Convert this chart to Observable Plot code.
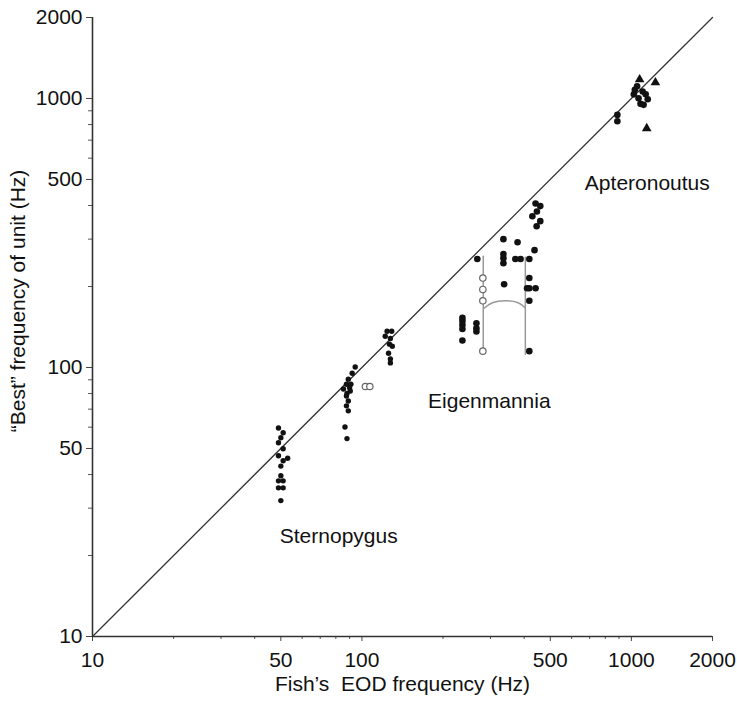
<!DOCTYPE html>
<html>
<head>
<meta charset="utf-8">
<script src="https://cdn.jsdelivr.net/npm/d3@7"></script>
<script src="https://cdn.jsdelivr.net/npm/@observablehq/plot@0.6"></script>
<style>
  body { margin: 0; background: #fff; }
  svg text { white-space: pre; }
</style>
</head>
<body>
<div id="chart"></div>
<script>
// ---- Tick values ----
const majorTicks = [10, 50, 100, 500, 1000, 2000];
const minorTicks = [20, 30, 40, 60, 70, 80, 90, 200, 300, 400, 600, 700, 800, 900];
const axisDomain = [10, 2000];
const diagonal = [10, 2000];

// ---- Sternopygus (filled dots) ----
const sternEOD  = [49, 51, 50, 49, 51, 49, 51, 50, 53, 50, 49, 51, 49, 51, 50];
const sternBest = [59.6, 57.2, 54.8, 52.5, 49.9, 47, 45, 43, 46, 39.6, 37.9, 37.9, 35.7, 35.7, 32];

// ---- ~90 Hz cluster ----
const c90EOD  = [94.4, 92, 89, 87.6, 91, 85.4, 90.5, 87.6, 89, 87.6, 89, 86.5, 88, 90, 88];
const c90Best = [100.4, 95.2, 90.5, 86.6, 86.6, 83.2, 81.8, 78.3, 75.1, 72, 69, 60.1, 54.4, 84, 80];
const c90OpenEOD  = [103, 107];
const c90OpenBest = [85, 85];

// ---- ~125 Hz cluster ----
const c125EOD  = [124, 129, 122, 127.5, 126.5, 129.6, 125.5, 127.5, 127.5];
const c125Best = [136.3, 136.3, 130.6, 128.2, 122.1, 120, 113, 107.5, 104];

// ---- Eigenmannia ----
const eigenEOD  = [268, 236, 236, 236, 236, 236, 266, 266, 266, 335, 335, 335, 335, 337,
                   378, 371, 388, 418, 418, 418, 418, 418, 437, 441, 410,
                   441, 459, 446, 429, 459, 445];
const eigenBest = [253, 153, 149, 144, 139, 126, 146, 140, 136, 300, 264, 255, 244, 204,
                   292, 253, 253, 253, 215, 197, 177, 115, 273, 197, 197,
                   407, 398, 380, 365, 350, 335];
const eigenOpenEOD  = [281, 281, 281, 281];
const eigenOpenBest = [215, 195, 177, 115];
// bracket drawn between the two Eigenmannia groups
const bracketLeftEOD   = [282, 282];
const bracketLeftBest  = [259, 115];
const bracketRightEOD  = [404, 404];
const bracketRightBest = [257, 112];
const bracketArcEOD    = [284, 305, 341, 380, 402];
const bracketArcBest   = [166, 174, 177, 174, 167];

// ---- Apteronotus ----
const apterEOD  = [1030, 1101, 1021, 1130, 1063, 1150, 1081, 1110, 1050, 887, 887];
const apterBest = [1078, 1062, 1036, 1036, 1001, 993, 955, 947, 1110, 869, 823];
const apterTriEOD  = [1073, 1228, 1140];
const apterTriBest = [1176, 1146, 774];

// ---- Annotations ----
const speciesNames = ["Sternopygus", "Eigenmannia", "Apteronoutus"];
const speciesLabelEOD  = [82, 297, 1146];
const speciesLabelBest = [23.5, 75.2, 484];

const xTitle = "Fish\u2019s  EOD frequency (Hz)";
const yTitle = "\u201CBest\u201D frequency of unit (Hz)";

// ---- tables ----
const zip = (xs, ys) => xs.map((x, i) => ({eod: x, best: ys[i]}));
const smallDots = [
  ...zip(sternEOD, sternBest),
  ...zip(c90EOD, c90Best),
  ...zip(c125EOD, c125Best)
];
const bigDots = [
  ...zip(eigenEOD, eigenBest),
  ...zip(apterEOD, apterBest)
];
const openPts = [...zip(c90OpenEOD, c90OpenBest), ...zip(eigenOpenEOD, eigenOpenBest)];
const triPts = zip(apterTriEOD, apterTriBest);
const labels = speciesNames.map((n, i) => ({name: n, eod: speciesLabelEOD[i], best: speciesLabelBest[i]}));

const font = "'Liberation Sans', Arial, Helvetica, sans-serif";
const fs = 21;

const chart = Plot.plot({
  width: 737,
  height: 702,
  marginLeft: 92,
  marginRight: 25,
  marginTop: 17,
  marginBottom: 66,
  style: {fontFamily: font, fontSize: fs + "px", background: "#fff", color: "#111"},
  x: {type: "log", domain: axisDomain},
  y: {type: "log", domain: axisDomain},
  marks: [
    Plot.axisX(majorTicks, {tickSize: 5, tickFormat: () => "", label: null, stroke: "#444"}),
    Plot.axisX(minorTicks, {tickSize: 3, tickFormat: () => "", label: null, stroke: "#555"}),
    Plot.text(majorTicks, {x: d => d, frameAnchor: "bottom", lineAnchor: "top", dy: 16, text: d => String(d), fontSize: fs, fill: "#111"}),
    Plot.axisY(majorTicks, {tickSize: 6, tickPadding: 4, tickFormat: d => String(d), label: null, stroke: "#444", fontSize: fs}),
    Plot.axisY(minorTicks, {tickSize: 4, tickFormat: () => "", label: null, stroke: "#555"}),
    Plot.ruleX([axisDomain[0]], {stroke: "#333", strokeWidth: 1.6}),
    Plot.ruleY([axisDomain[0]], {stroke: "#333", strokeWidth: 1.6}),
    Plot.line(diagonal, {x: d => d, y: d => d, stroke: "#333", strokeWidth: 1.3}),
    Plot.line(zip(bracketLeftEOD, bracketLeftBest), {x: "eod", y: "best", stroke: "#999", strokeWidth: 1.5}),
    Plot.line(zip(bracketRightEOD, bracketRightBest), {x: "eod", y: "best", stroke: "#999", strokeWidth: 1.5}),
    Plot.line(zip(bracketArcEOD, bracketArcBest), {x: "eod", y: "best", stroke: "#999", strokeWidth: 1.5, curve: "natural"}),
    Plot.dot(smallDots, {x: "eod", y: "best", r: 2.7, fill: "#111", stroke: "none"}),
    Plot.dot(bigDots, {x: "eod", y: "best", r: 3.3, fill: "#111", stroke: "none"}),
    Plot.dot(openPts, {x: "eod", y: "best", r: 3.2, fill: "#fff", stroke: "#666", strokeWidth: 1.2}),
    Plot.dot(triPts, {x: "eod", y: "best", r: 3.6, symbol: "triangle", fill: "#111", stroke: "none"}),
    Plot.text(labels, {x: "eod", y: "best", text: "name", fontSize: fs, fill: "#111"}),
    Plot.text([xTitle], {frameAnchor: "bottom", dy: 54, fontSize: fs, fill: "#111"})
  ]
});

// rotated y-axis title
d3.select(chart).append("text")
  .attr("transform", "translate(17,301) rotate(-90)")
  .attr("text-anchor", "middle")
  .attr("dominant-baseline", "central")
  .attr("font-family", font)
  .attr("font-size", fs)
  .attr("fill", "#111")
  .text(yTitle);

document.getElementById("chart").appendChild(chart);
</script>
</body>
</html>
